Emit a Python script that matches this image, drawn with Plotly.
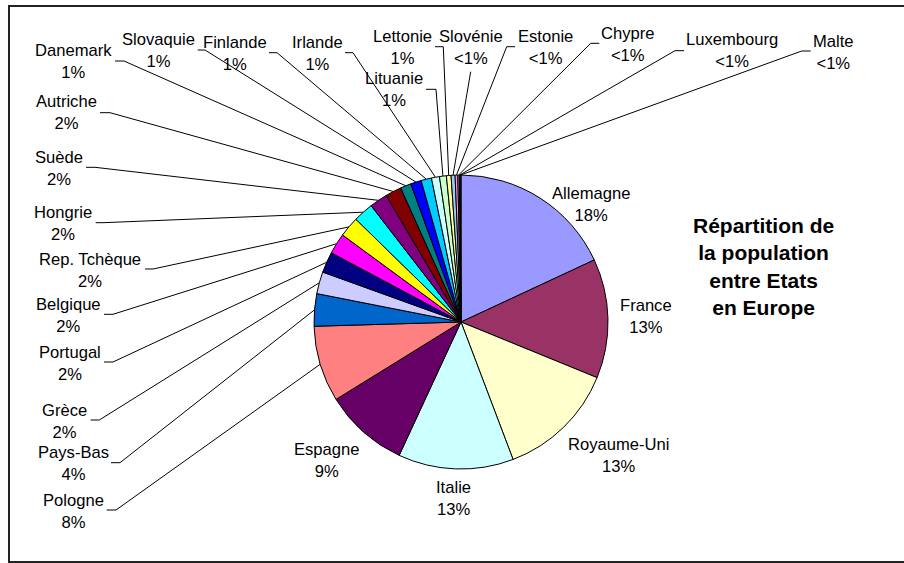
import math
import plotly.graph_objects as go

# Population by member state (millions, 1 Jan 2004), in slice order clockwise from 12 o'clock
countries = ["Allemagne", "France", "Royaume-Uni", "Italie", "Espagne", "Pologne",
             "Pays-Bas", "Grèce", "Portugal", "Belgique", "Rep. Tchèque", "Hongrie",
             "Suède", "Autriche", "Danemark", "Slovaquie", "Finlande", "Irlande",
             "Lituanie", "Lettonie", "Slovénie", "Estonie", "Chypre", "Luxembourg", "Malte"]
population = [82.53, 59.90, 59.65, 57.89, 42.35, 38.19,
              16.26, 11.04, 10.47, 10.40, 10.21, 10.12,
              8.98, 8.11, 5.40, 5.38, 5.22, 4.03,
              3.45, 2.32, 2.00, 1.35, 0.73, 0.45, 0.40]
slice_colors = ["#9999FF", "#993366", "#FFFFCC", "#CCFFFF", "#660066", "#FF8080",
                "#0066CC", "#CCCCFF", "#000080", "#FF00FF", "#FFFF00", "#00FFFF",
                "#800080", "#800000", "#008080", "#0000FF", "#00CCFF", "#CCFFFF",
                "#CCFFCC", "#FFFF99", "#99CCFF", "#FF99CC", "#CC99FF", "#FFCC99", "#3366FF"]

title_lines = ["Répartition de", "la population", "entre Etats", "en Europe"]

W, H = 904, 563
CX, CY, R = 461.0, 322.0, 147.0
FONT = "Liberation Sans, Arial, Helvetica, sans-serif"

# Label placement (pixel centre of each two-line label) and leader-line start points
label_pos = {
    "Allemagne": (591.3, 204.3, []),
    "France": (645.7, 316.2, []),
    "Royaume-Uni": (618.7, 455.0, []),
    "Italie": (453.0, 498.5, []),
    "Espagne": (326.8, 460.7, []),
    "Pologne": (73.7, 511.0, [(106.7, 510.0), (116.0, 510.0)]),
    "Pays-Bas": (73.0, 463.3, [(111.0, 462.7), (120.0, 462.7)]),
    "Grèce": (64.8, 421.2, [(90.7, 420.0), (99.3, 420.0)]),
    "Portugal": (69.8, 363.7, [(104.0, 362.0), (113.0, 362.0)]),
    "Belgique": (68.7, 315.7, [(104.0, 314.3), (113.0, 314.3)]),
    "Rep. Tchèque": (89.7, 270.0, [(145.0, 269.0), (153.0, 269.0)]),
    "Hongrie": (63.2, 223.8, [(95.7, 222.7), (103.0, 222.7)]),
    "Suède": (59.2, 168.5, [(86.0, 167.3), (95.0, 167.3)]),
    "Autriche": (66.7, 112.8, [(100.0, 112.7), (110.0, 112.7)]),
    "Danemark": (73.7, 61.7, [(115.0, 61.0), (124.0, 61.0)]),
    "Slovaquie": (158.3, 50.7, [(197.7, 50.0), (205.0, 50.0)]),
    "Finlande": (235.0, 53.0, [(269.0, 52.7), (277.0, 52.7)]),
    "Irlande": (317.5, 53.0, [(345.0, 52.7), (353.0, 52.7)]),
    "Lituanie": (393.5, 89.7, [(426.0, 89.3), (436.0, 89.3)]),
    "Lettonie": (402.5, 47.0, [(435.0, 46.7), (443.3, 46.7)]),
    "Slovénie": (470.5, 47.0, [(470.7, 71.7)]),
    "Estonie": (545.0, 47.0, [(515.0, 46.7), (506.7, 46.7)]),
    "Chypre": (628.3, 44.7, [(599.3, 43.3), (590.7, 43.3)]),
    "Luxembourg": (732.2, 50.8, [(684.0, 50.7), (675.0, 50.7)]),
    "Malte": (833.3, 52.0, [(810.7, 51.0), (801.7, 51.0)]),
}

total = sum(population)


def pct_text(v):
    share = v / total * 100
    return "<1%" if share < 0.5 else f"{round(share)}%"


fig = go.Figure()

# Pie itself, clockwise from 12 o'clock
fig.add_trace(go.Pie(
    labels=countries, values=population, sort=False, direction="clockwise", rotation=0,
    marker=dict(colors=slice_colors, line=dict(color="#000000", width=1)),
    textinfo="none", hoverinfo="label+percent", showlegend=False,
    domain=dict(x=[(CX - R) / W, (CX + R) / W], y=[1 - (CY + R) / H, 1 - (CY - R) / H]),
))

# Leader lines: from the label's tick to the slice edge at its mid angle
lx, ly = [], []
cum = 0.0
annotations = []
for name, v in zip(countries, population):
    mid = (cum + v / 2) / total * 2 * math.pi
    cum += v
    ex = CX + R * math.sin(mid)
    ey = CY - R * math.cos(mid)
    px, py, pts = label_pos[name]
    if pts:
        for (x, y) in pts:
            lx.append(x)
            ly.append(y)
        lx.extend([ex, None])
        ly.extend([ey, None])
    annotations.append(dict(
        x=px, y=py, xref="x", yref="y", xanchor="center", yanchor="middle",
        text=f"{name}<br>{pct_text(v)}", showarrow=False, align="center",
        font=dict(family=FONT, size=16.6, color="#000000"),
    ))

fig.add_trace(go.Scatter(
    x=lx, y=ly, mode="lines", line=dict(color="#000000", width=1),
    hoverinfo="skip", showlegend=False,
))

annotations.append(dict(
    x=763.7, y=266.7, xref="x", yref="y", xanchor="center", yanchor="middle",
    text="<br>".join(f"<b>{t}</b>" for t in title_lines), showarrow=False, align="center",
    font=dict(family=FONT, size=21, color="#000000"),
))

fig.update_layout(
    width=W, height=H, autosize=False,
    margin=dict(l=0, r=0, t=0, b=0, pad=0),
    paper_bgcolor="#FFFFFF", plot_bgcolor="rgba(0,0,0,0)",
    xaxis=dict(range=[0, W], visible=False, fixedrange=True),
    yaxis=dict(range=[H, 0], visible=False, fixedrange=True),
    annotations=annotations,
    shapes=[dict(type="rect", xref="x", yref="y", x0=9, y0=6, x1=W + 10, y1=562,
                 line=dict(color="#222222", width=2), fillcolor="rgba(0,0,0,0)", layer="below")],
)

fig.write_html("out.html")
